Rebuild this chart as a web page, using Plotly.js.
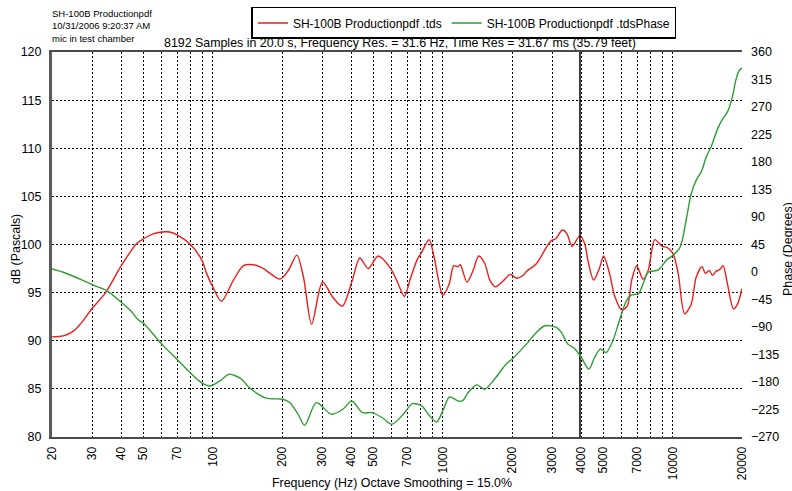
<!DOCTYPE html>
<html>
<head>
<meta charset="utf-8">
<script src="https://cdn.plot.ly/plotly-3.0.1.min.js"></script>
<style>html,body{margin:0;padding:0;background:#fff;}#chart{width:792px;height:491px;}</style>
</head>
<body>
<div id="chart"></div>
<script>
// ---- Data ----
const seriesNames = ["SH-100B Productionpdf .tds", "SH-100B Productionpdf .tdsPhase"];

const magFreq = [20, 22.4, 24.8, 26.5, 30, 34.2, 40, 46.7, 50, 55, 60, 65, 70, 80, 90, 94, 100, 109, 123, 136, 150, 166, 196, 213, 232, 248, 269, 300, 333, 366, 402, 436, 474, 524, 590, 630, 681, 720, 770, 810, 872, 917, 958, 1000, 1066, 1116, 1164, 1192, 1274, 1355, 1433, 1524, 1602, 1696, 1828, 1970, 2092, 2240, 2310, 2552, 2820, 2964, 3100, 3312, 3468, 3650, 3940, 4140, 4280, 4530, 4810, 5000, 5310, 5580, 6000, 6340, 6630, 6970, 7430, 7820, 8360, 9000, 9440, 10000, 10540, 11260, 12030, 12640, 13400, 13860, 14400, 14890, 15390, 16020, 16560, 17290, 18360, 19120, 20000];
const magDb = [90.4, 90.5, 91.0, 91.7, 93.4, 95.0, 97.8, 100.1, 100.6, 101.1, 101.3, 101.3, 101.0, 100.0, 98.3, 97.0, 95.6, 94.1, 96.3, 97.8, 97.9, 97.5, 96.4, 97.3, 98.9, 96.6, 91.7, 96.1, 94.5, 93.6, 96.1, 98.6, 97.5, 98.8, 97.6, 96.3, 94.6, 96.3, 98.3, 99.2, 100.5, 98.7, 96.3, 94.7, 95.9, 97.8, 97.7, 97.9, 96.1, 97.3, 98.8, 98.0, 96.3, 95.6, 96.2, 96.9, 96.5, 96.8, 97.2, 98.0, 99.7, 100.4, 100.6, 101.5, 101.1, 99.8, 100.9, 100.1, 98.3, 96.3, 97.6, 98.8, 97.0, 94.7, 93.2, 93.6, 96.3, 97.8, 96.4, 97.3, 100.5, 99.8, 99.7, 99.1, 97.1, 92.8, 93.8, 96.6, 97.7, 97.0, 97.3, 96.8, 97.2, 97.4, 97.8, 95.9, 93.3, 93.8, 95.4];

const phaseFreq = [20, 22.4, 27.4, 30.5, 34.6, 39.3, 44.4, 47, 50, 60, 70, 79.6, 89.2, 97.5, 109, 118, 133, 144, 171, 202, 216, 235, 251, 282, 328, 368, 402, 448, 494, 550, 600, 674, 738, 810, 866, 940, 1000, 1070, 1164, 1216, 1290, 1402, 1524, 1656, 1896, 2000, 2310, 2552, 2780, 3120, 3280, 3500, 3740, 4000, 4320, 4570, 4840, 5140, 5490, 5860, 6290, 6630, 7080, 7430, 7820, 8650, 9420, 10000, 10740, 11000, 11500, 12030, 12640, 13340, 13970, 14680, 15700, 16500, 17290, 18180, 18800, 19400, 20000];
const phaseDeg = [5, -0.4, -14, -22, -30.5, -47, -65, -77, -84, -118, -143, -164.5, -181, -186.5, -176.5, -167.2, -175, -189, -206.5, -208.2, -213.7, -232.8, -250.9, -213.7, -232.8, -224.6, -211, -230.1, -230.1, -239.3, -249.2, -232.8, -215.4, -219.2, -232.8, -245.4, -227.4, -204.5, -211, -211, -197.3, -184.7, -191.8, -178.1, -149.8, -142.6, -118, -98.9, -87.9, -90.7, -98.9, -118, -125.1, -139.9, -159, -139.9, -126.1, -131.7, -112.5, -79.7, -46.9, -37.5, -35.9, -19.5, -0.4, 3.5, 19.9, 27, 40, 52, 90, 128, 150, 165, 188, 205, 235, 251, 262, 287, 314, 329, 334];

const markerFreq = 3950;

const xTickVals = [20, 30, 40, 50, 70, 100, 200, 300, 400, 500, 700, 1000, 2000, 3000, 4000, 5000, 7000, 10000, 20000];
const xTickText = ["20", "30", "40", "50", "70", "100", "200", "300", "400", "500", "700", "1000", "2000", "3000", "4000", "5000", "7000", "10000", "20000"];
const xMinorGrid = [60, 80, 90, 600, 800, 900, 6000, 8000, 9000];
const yTickVals = [80, 85, 90, 95, 100, 105, 110, 115, 120];
const y2TickVals = [-270, -225, -180, -135, -90, -45, 0, 45, 90, 135, 180, 225, 270, 315, 360];

const infoText = "SH-100B Productionpdf<br>10/31/2006 9:20:37 AM<br>mic in test chamber";
const subTitle = "8192 Samples in 20.0 s, Frequency Res. = 31.6 Hz, Time Res = 31.67 ms (35.79 feet)";
const xTitle = "Frequency (Hz) Octave Smoothing = 15.0%";
const yTitle = "dB (Pascals)";
const y2Title = "Phase (Degrees)";

// ---- Plot ----
const FONT = "Liberation Sans, Arial, Helvetica, sans-serif";
const DOT = "2px,2px";

const traces = [
  {x: magFreq, y: magDb, name: seriesNames[0], type: "scatter", mode: "lines",
   line: {color: "#ee1c1c", width: 1.4, shape: "spline", smoothing: 0.8}, yaxis: "y", hoverinfo: "skip"},
  {x: phaseFreq, y: phaseDeg, name: seriesNames[1], type: "scatter", mode: "lines",
   line: {color: "#2e9e36", width: 1.4, shape: "spline", smoothing: 0.8}, yaxis: "y2", hoverinfo: "skip"},
  {x: [markerFreq, markerFreq], y: [yTickVals[0], yTickVals[yTickVals.length - 1]], type: "scatter", mode: "lines",
   line: {color: "#000", width: 1.5}, showlegend: false, yaxis: "y", hoverinfo: "skip"}
];

const layout = {
  width: 792, height: 491,
  margin: {l: 52, r: 50, t: 52, b: 54, pad: 0, autoexpand: false},
  paper_bgcolor: "#fff", plot_bgcolor: "#fff",
  font: {family: FONT, size: 12, color: "#000"},
  showlegend: true,
  legend: {orientation: "h", x: 0.597, xanchor: "center", y: 1.117, yanchor: "top",
           bordercolor: "#000", borderwidth: 1.5, bgcolor: "#fff",
           font: {family: FONT, size: 12, color: "#000"}, itemwidth: 30, tracegroupgap: 0},
  xaxis: {type: "log", range: [Math.log10(20), Math.log10(20000)],
          tickmode: "array", tickvals: xTickVals, ticktext: xTickText, tickangle: -90,
          tickfont: {family: FONT, size: 12, color: "#000"}, ticks: "", ticklabelstandoff: 3,
          showgrid: true, gridcolor: "#000", gridwidth: 1, griddash: DOT,
          minor: {tickmode: "array", tickvals: xMinorGrid, showgrid: true, gridcolor: "#000", gridwidth: 1, griddash: DOT, ticks: ""},
          showline: true, mirror: true, linecolor: "#4a4a4a", linewidth: 2,
          zeroline: false, automargin: false, fixedrange: true},
  yaxis: {range: [80, 120], tickmode: "array", tickvals: yTickVals,
          tickfont: {family: FONT, size: 12.5, color: "#000"}, ticks: "", ticklabelstandoff: 5,
          showgrid: true, gridcolor: "#000", gridwidth: 1, griddash: DOT,
          showline: true, mirror: false, linecolor: "#5a5a5a", linewidth: 3,
          zeroline: false, automargin: false, fixedrange: true},
  yaxis2: {overlaying: "y", side: "right", range: [-270, 360], tickmode: "array", tickvals: y2TickVals,
           tickfont: {family: FONT, size: 12.5, color: "#000"}, ticks: "", ticklabelstandoff: 8,
           showgrid: false, showline: false, zeroline: false, automargin: false, fixedrange: true},
  annotations: [
    {text: infoText, xref: "paper", yref: "paper", x: -0.003, y: 1.1195, xanchor: "left", yanchor: "top",
     align: "left", showarrow: false, font: {family: FONT, size: 9.5, color: "#000"}},
    {text: subTitle, xref: "paper", yref: "paper", x: 0.5043, y: 1.0242, xanchor: "center", yanchor: "middle",
     showarrow: false, font: {family: FONT, size: 12.4, color: "#000"}},
    {text: xTitle, xref: "paper", yref: "paper", x: 0.4928, y: -0.1187, xanchor: "center", yanchor: "middle",
     showarrow: false, font: {family: FONT, size: 12.4, color: "#000"}},
    {text: yTitle, xref: "paper", yref: "paper", x: -0.0522, y: 0.4883, xanchor: "center", yanchor: "middle",
     textangle: -90, showarrow: false, font: {family: FONT, size: 12.4, color: "#000"}},
    {text: y2Title, xref: "paper", yref: "paper", x: 1.0665, y: 0.4883, xanchor: "center", yanchor: "middle",
     textangle: -90, showarrow: false, font: {family: FONT, size: 12.4, color: "#000"}}
  ]
};

Plotly.newPlot("chart", traces, layout, {staticPlot: true, displayModeBar: false});
</script>
</body>
</html>
